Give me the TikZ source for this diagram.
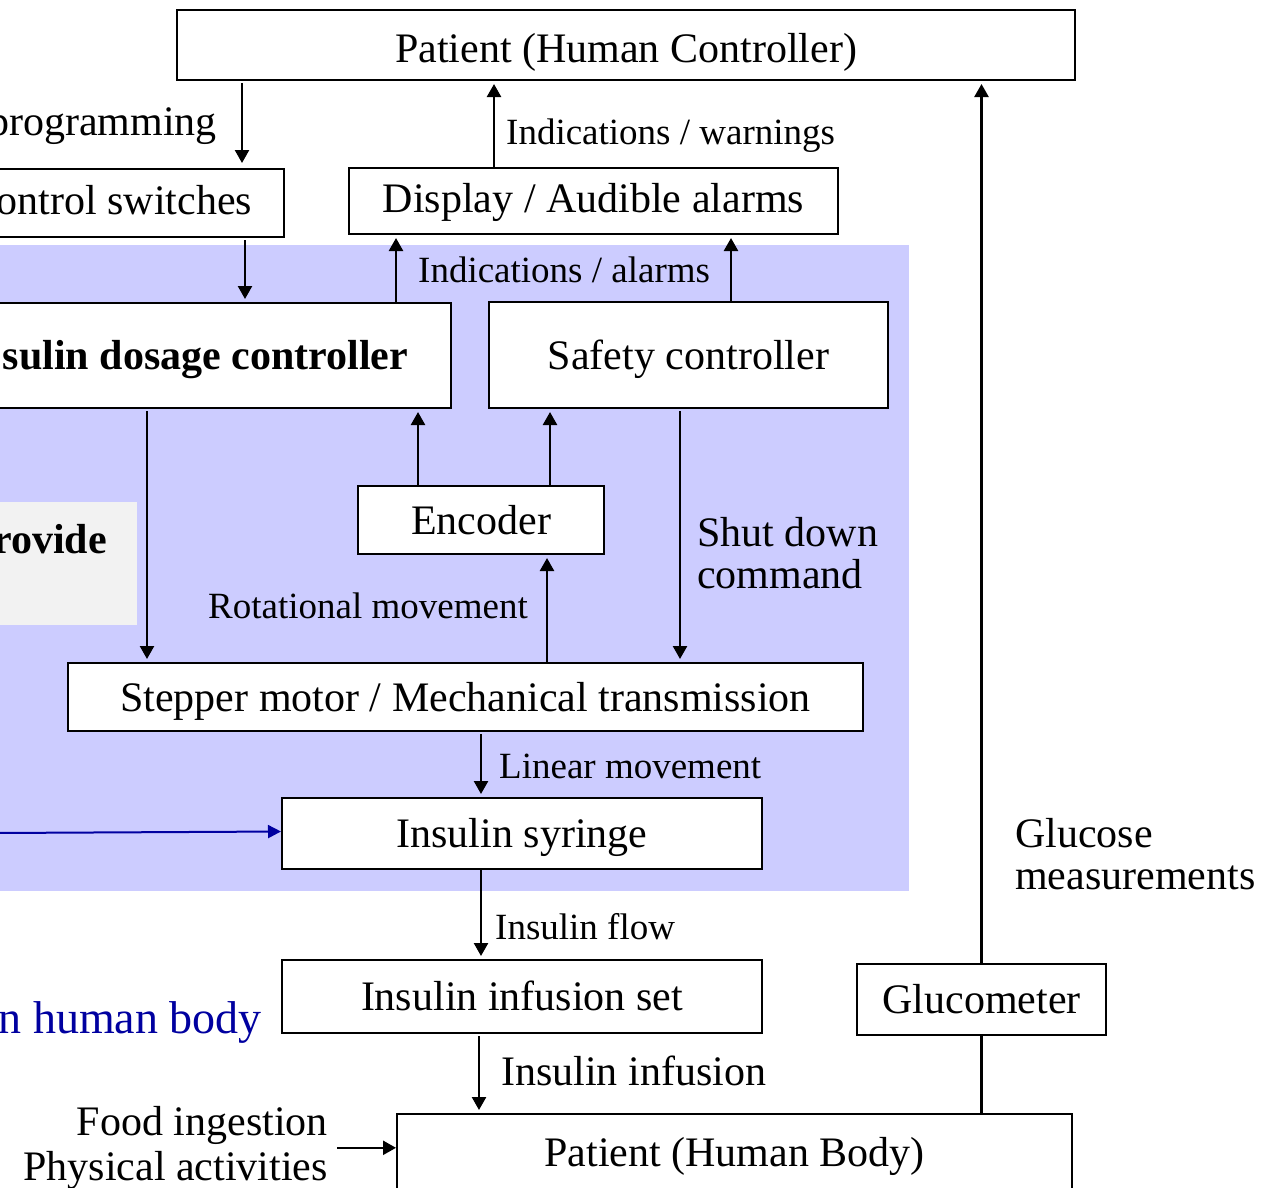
\documentclass[tikz,border=0pt]{standalone}
\usepackage{fontspec}
\setmainfont{Liberation Serif}
\usetikzlibrary{arrows.meta}

\definecolor{panelblue}{RGB}{204,204,255}
\definecolor{notegray}{RGB}{242,242,242}
\definecolor{linkblue}{RGB}{0,0,160}

\newcommand\bigtxt{\fontsize{42}{42}\selectfont}
\newcommand\smalltxt{\fontsize{37}{37}\selectfont}

\begin{document}
\begin{tikzpicture}[x=1pt,y=-1pt,
  box/.style={draw=black, line width=2pt, fill=white, inner sep=0pt, font=\bigtxt,
    text height=36pt, text depth=8pt},
  lowtext/.style={text height=30pt, text depth=8pt},
  lbl/.style={inner sep=0pt, font=\smalltxt},
  lbig/.style={inner sep=0pt, font=\bigtxt},
  arr/.style={line width=2.4pt, -{Triangle[length=13pt,width=14pt]}, shorten <=2pt, shorten >=3pt},
  plain/.style={line width=2.4pt},
]
\useasboundingbox (0,0) rectangle (1284,1187);
\clip (0,0) rectangle (1284,1187);
\fill[white] (0,0) rectangle (1284,1187);

% pump housing and side note
\fill[panelblue] (-10,245) rectangle (909,891);
\fill[notegray] (-10,502) rectangle (137,625);

% blocks
\node[box, text height=42pt, minimum width=898pt, minimum height=70pt] (phc) at (626,45) {Patient (Human Controller)};
\node[box, lowtext, anchor=north east, minimum height=68pt, inner xsep=32pt] (sw) at (285,168) {ontrol switches};
\node[box, lowtext, minimum width=489pt, minimum height=66pt] (disp) at (593.5,201) {Display / Audible alarms};
\node[box, anchor=north east, minimum height=105pt, inner xsep=43pt, font=\bigtxt\bfseries] (dose) at (452,302) {sulin dosage controller};
\node[box, minimum width=399pt, minimum height=106pt] (safe) at (688.5,355) {Safety controller};
\node[box, minimum width=246pt, minimum height=68pt] (enc) at (481,520) {Encoder};
\node[box, minimum width=795pt, minimum height=68pt] (step) at (465.5,697) {Stepper motor / Mechanical transmission};
\node[box, minimum width=480pt, minimum height=71pt] (syr) at (522,833.5) {Insulin syringe};
\node[box, minimum width=480pt, minimum height=73pt] (inf) at (522,996.5) {Insulin infusion set};
\node[box, minimum width=249pt, minimum height=71pt] (glu) at (981.5,999.5) {Glucometer};
\node[box, minimum width=675pt, minimum height=76pt] (body) at (734.5,1152) {Patient (Human Body)};

% labels
\node[lbig, anchor=base east] (prog) at (217,135) {programming};
\node[lbl, anchor=base west] (iw) at (506,144) {Indications / warnings};
\node[lbl, anchor=base west] (ia) at (418,282) {Indications / alarms};
\node[lbig, anchor=base east, font=\bigtxt\bfseries] (prov) at (107,553) {rovide};
\node[lbig, anchor=north west, align=left] (shut) at (697,517) {Shut down\\command};
\node[lbl, anchor=base east] (rot) at (528,618) {Rotational movement};
\node[lbl, anchor=base west] (lin) at (499,778) {Linear movement};
\node[lbl, anchor=base west] (flow) at (495,939) {Insulin flow};
\node[lbig, anchor=base west] (infu) at (501,1085) {Insulin infusion};
\node[lbig, anchor=north west, align=left] (gm) at (1015,818) {Glucose\\measurements};
\node[inner sep=0pt, anchor=north east, align=right, font=\fontsize{42}{45}\selectfont] (food) at (328,1106) {Food ingestion\\Physical activities};
\node[inner sep=0pt, anchor=base east, text=linkblue, font=\fontsize{46}{46}\selectfont] (hb) at (262,1033) {n human body};

% x positions of the vertical links
\coordinate (c147) at (147,0);
\coordinate (c242) at (242,0);
\coordinate (c245) at (245,0);
\coordinate (c396) at (396,0);
\coordinate (c418) at (418,0);
\coordinate (c479) at (479,0);
\coordinate (c481) at (481,0);
\coordinate (c494) at (494,0);
\coordinate (c547) at (547,0);
\coordinate (c550) at (550,0);
\coordinate (c680) at (680,0);
\coordinate (c731) at (731,0);
\coordinate (lstart) at (-5,833);

% connectors
\draw[arr, shorten >=5pt] (phc.south -| c242) -- (sw.north -| c242);
\draw[arr] (sw.south -| c245) -- (dose.north -| c245);
\draw[arr, shorten <=0pt] (dose.north -| c396) -- (disp.south -| c396);
\draw[arr, shorten <=0pt] (safe.north -| c731) -- (disp.south -| c731);
\draw[arr, shorten <=0pt] (disp.north -| c494) -- (phc.south -| c494);
\draw[arr] (dose.south -| c147) -- (step.north -| c147);
\draw[arr, shorten <=0pt] (enc.north -| c418) -- (dose.south -| c418);
\draw[arr, shorten <=0pt] (enc.north -| c550) -- (safe.south -| c550);
\draw[arr, shorten <=0pt] (step.north -| c547) -- (enc.south -| c547);
\draw[arr] (safe.south -| c680) -- (step.north -| c680);
\draw[arr] (step.south -| c481) -- (syr.north -| c481);
\draw[arr, shorten <=0pt] (syr.south -| c481) -- (inf.north -| c481);
\draw[arr] (inf.south -| c479) -- (body.north -| c479);
\draw[arr, shorten <=9pt, shorten >=0pt] (food.east) -- (food.east -| body.west);
\draw[plain] (body.north -| glu.south) -- (glu.south);
\draw[arr, shorten <=0pt] (glu.north) -- (glu.north |- phc.south);
\draw[line width=2pt, draw=linkblue, -{Triangle[length=13pt,width=13pt]}] (lstart) -- ([yshift=2pt]syr.west);
\end{tikzpicture}
\end{document}
